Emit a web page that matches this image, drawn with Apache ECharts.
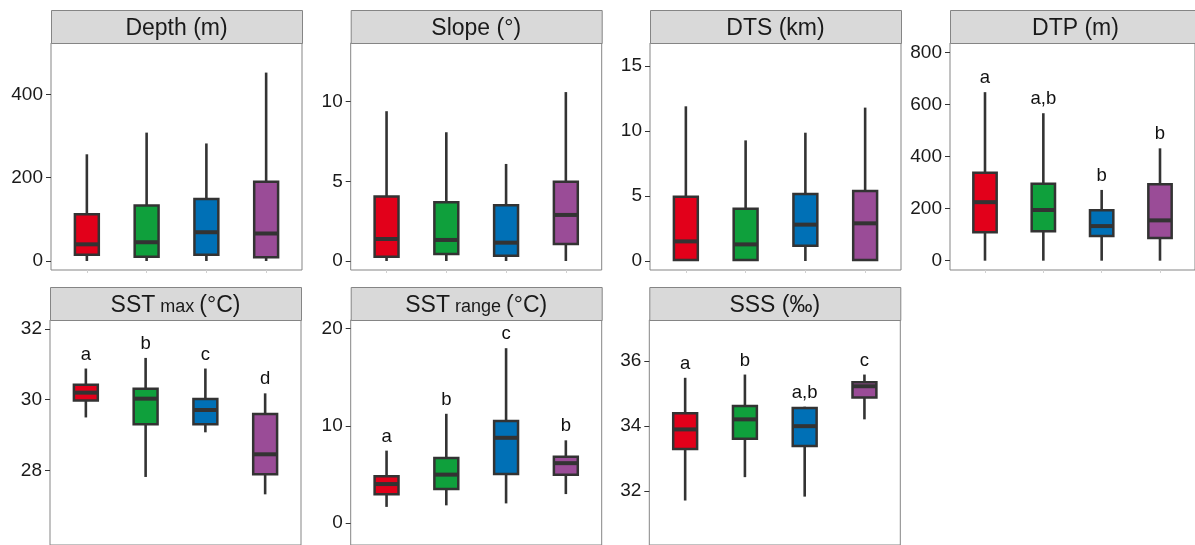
<!DOCTYPE html>
<html>
<head>
<meta charset="utf-8">
<style>
    html, body { margin: 0; padding: 0; background: #fff; }
    #main { width: 1195px; height: 545px; }
</style>
<script src="https://cdn.jsdelivr.net/npm/echarts@6/dist/echarts.min.js"></script>
</head>
<body>
<div id="main"></div>
<script>
    // groups along x, one colour each
    var groups = [1, 2, 3, 4];
    var groupColors = ['#e2001a', '#0fa03c', '#0070b6', '#9a4c97'];

    // box stats: [low, q1, median, q3, high]
    var depthStats = [[0, 15, 40, 112, 256], [0, 10, 45, 133, 308], [0, 15, 69, 149, 282], [0, 9, 66, 190, 452]];
    var slopeStats = [[0, 0.27, 1.38, 4.04, 9.4], [0, 0.44, 1.32, 3.68, 8.08], [0, 0.33, 1.15, 3.5, 6.09], [0, 1.07, 2.89, 4.98, 10.6]];
    var dtsStats = [[0, 0.08, 1.51, 4.95, 11.9], [0, 0.08, 1.28, 4.03, 9.28], [0, 1.18, 2.8, 5.15, 9.87], [0, 0.08, 2.9, 5.38, 11.8]];
    var dtpStats = [[0, 109, 225, 338, 648], [0, 113, 195, 296, 567], [0, 95, 133, 194, 272], [0, 87, 155, 294, 432]];
    var sstMaxStats = [[29.5, 29.98, 30.2, 30.42, 30.88], [27.82, 29.31, 30.03, 30.31, 31.18], [29.08, 29.31, 29.71, 30.02, 30.88], [27.33, 27.9, 28.46, 29.6, 30.18]];
    var sstRangeStats = [[1.67, 2.96, 4.02, 4.82, 7.46], [1.83, 3.51, 4.99, 6.69, 11.25], [2.03, 5.05, 8.78, 10.51, 18.0], [2.99, 4.99, 6.17, 6.82, 8.52]];
    var sssStats = [[31.71, 33.3, 33.9, 34.4, 35.49], [32.43, 33.61, 34.21, 34.62, 35.59], [31.83, 33.39, 34.0, 34.56, 34.6], [34.21, 34.88, 35.23, 35.35, 35.59]];

    // significance letters
    var dtpLetters = ['a', 'a,b', 'b', 'b'];
    var sstMaxLetters = ['a', 'b', 'c', 'd'];
    var sstRangeLetters = ['a', 'b', 'c', 'b'];
    var sssLetters = ['a', 'b', 'a,b', 'c'];

    // tick labels
    var depthTicks = [0, 200, 400];
    var slopeTicks = [0, 5, 10];
    var dtsTicks = [0, 5, 10, 15];
    var dtpTicks = [0, 200, 400, 600, 800];
    var sstMaxTicks = [28, 30, 32];
    var sstRangeTicks = [0, 10, 20];
    var sssTicks = [32, 34, 36];

    var font = 'Liberation Sans, Arial, sans-serif';

    var panels = [
        {title: '{b|Depth (m)}', stats: depthStats, ticks: depthTicks, letters: null, left: 51, top: 43, height: 227, min: -21.6, max: 523},
        {title: '{b|Slope (°)}', stats: slopeStats, ticks: slopeTicks, letters: null, left: 350.7, top: 43, height: 227, min: -0.565, max: 13.68},
        {title: '{b|DTS (km)}', stats: dtsStats, ticks: dtsTicks, letters: null, left: 650, top: 43, height: 227, min: -0.69, max: 16.77},
        {title: '{b|DTP (m)}', stats: dtpStats, ticks: dtpTicks, letters: dtpLetters, left: 950, top: 43, height: 227, min: -35.8, max: 837},
        {title: '{b|SST}{s| max }{b|(°C)}', stats: sstMaxStats, ticks: sstMaxTicks, letters: sstMaxLetters, left: 50, top: 320, height: 240, min: 25.9, max: 32.25},
        {title: '{b|SST}{s| range }{b|(°C)}', stats: sstRangeStats, ticks: sstRangeTicks, letters: sstRangeLetters, left: 350.7, top: 320, height: 240, min: -2.25, max: 20.9},
        {title: '{b|SSS (‰)}', stats: sssStats, ticks: sssTicks, letters: sssLetters, left: 649.3, top: 320, height: 240, min: 30.34, max: 37.27}
    ];

    var panelWidth = 251;
    var stripHeight = 33;

    function makeRender(letters) {
        return function (params, api) {
            var x = api.value(0);
            var lo = api.coord([x, api.value(1)]);
            var q1 = api.coord([x, api.value(2)]);
            var md = api.coord([x, api.value(3)]);
            var q3 = api.coord([x, api.value(4)]);
            var hi = api.coord([x, api.value(5)]);
            var w = api.size([1, 0])[0] * 0.4;
            var cx = lo[0];
            var children = [
                {type: 'line', shape: {x1: cx, y1: lo[1], x2: cx, y2: hi[1]}, style: {stroke: '#333', lineWidth: 2.6}},
                {type: 'rect', shape: {x: cx - w / 2, y: q3[1], width: w, height: q1[1] - q3[1]},
                    style: {fill: groupColors[params.dataIndex], stroke: '#333', lineWidth: 2.5}},
                {type: 'line', shape: {x1: cx - w / 2, y1: md[1], x2: cx + w / 2, y2: md[1]}, style: {stroke: '#333', lineWidth: 4}}
            ];
            if (letters) {
                children.push({
                    type: 'text', x: cx, y: hi[1] - 14,
                    style: {text: letters[params.dataIndex], fontSize: 18.5, fontFamily: font, fill: '#111',
                        align: 'center', verticalAlign: 'middle'}
                });
            }
            return {type: 'group', children: children};
        };
    }

    var grid = [], xAxis = [], yAxis = [], series = [], graphic = [];
    panels.forEach(function (p, i) {
        grid.push({left: p.left, top: p.top, width: panelWidth, height: p.height, show: true,
            borderColor: '#858585', borderWidth: 1, backgroundColor: '#fff'});
        xAxis.push({
            type: 'value', gridIndex: i, min: 0.4, max: 4.6,
            axisLine: {show: false, onZero: false}, splitLine: {show: false},
            axisLabel: {show: false},
            axisTick: {show: true, customValues: groups, length: 3, lineStyle: {color: '#d0d0d0'}}
        });
        yAxis.push({
            type: 'value', gridIndex: i, min: p.min, max: p.max,
            axisLine: {show: false, onZero: false}, splitLine: {show: false},
            axisTick: {show: true, customValues: p.ticks, length: 5, lineStyle: {color: '#333', width: 1}},
            axisLabel: {customValues: p.ticks, fontSize: 19, fontFamily: font, color: '#1a1a1a', margin: 8}
        });
        series.push({
            type: 'custom', xAxisIndex: i, yAxisIndex: i,
            renderItem: makeRender(p.letters),
            encode: {x: 0, y: [1, 2, 3, 4, 5]},
            data: p.stats.map(function (s, k) { return [groups[k]].concat(s); })
        });
        // facet strip
        graphic.push({
            type: 'rect', left: p.left, top: p.top - stripHeight,
            shape: {width: panelWidth, height: stripHeight},
            style: {fill: '#d9d9d9', stroke: '#858585', lineWidth: 1}
        });
        graphic.push({
            type: 'text', x: p.left + panelWidth / 2, y: p.top - stripHeight / 2 + 1,
            style: {
                text: p.title, align: 'center', verticalAlign: 'middle', fill: '#1a1a1a',
                rich: {
                    b: {fontSize: 23, fontFamily: font, fill: '#1a1a1a', lineHeight: 26, verticalAlign: 'bottom'},
                    s: {fontSize: 18, fontFamily: font, fill: '#1a1a1a', lineHeight: 26, verticalAlign: 'bottom', padding: [0, 0, 1, 0]}
                }
            }
        });
    });

    var chart = echarts.init(document.getElementById('main'), null, {renderer: 'canvas'});
    chart.setOption({
        animation: false,
        backgroundColor: '#fff',
        grid: grid,
        xAxis: xAxis,
        yAxis: yAxis,
        series: series,
        graphic: graphic
    });
    window.addEventListener('resize', function () {
        chart.resize();
    });
</script>
</body>
</html>
